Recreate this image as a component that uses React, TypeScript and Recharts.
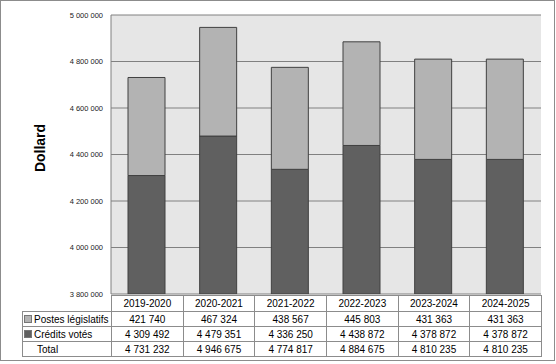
import { BarChart, Bar, XAxis, YAxis, CartesianGrid } from 'recharts';

const years = ['2019-2020', '2020-2021', '2021-2022', '2022-2023', '2023-2024', '2024-2025'];
const postesLegislatifs = [421740, 467324, 438567, 445803, 431363, 431363];
const creditsVotes = [4309492, 4479351, 4336250, 4438872, 4378872, 4378872];
const totals = [4731232, 4946675, 4774817, 4884675, 4810235, 4810235];
const yTicks = [3800000, 4000000, 4200000, 4400000, 4600000, 4800000, 5000000];

const data = years.map((y, i) => ({
    name: y,
    postes: postesLegislatifs[i],
    credits: creditsVotes[i],
}));

const fmt = (v: number) => String(v).replace(/\B(?=(\d{3})+(?!\d))/g, ' ');

const font = 'Arial, "Liberation Sans", sans-serif';
const border = '1px solid #8c8c8c';

const cell: React.CSSProperties = {
    border: border,
    padding: 0,
    textAlign: 'center',
    whiteSpace: 'nowrap',
};

function Swatch({ color }: { color: string }) {
    return (
        <span style={{
            display: 'inline-block', width: 6, height: 6, background: color,
            border: '1px solid #777', marginRight: 2, marginLeft: 1, verticalAlign: 0,
        }} />
    );
}

export default function App() {
    const rows = [
        { label: 'Postes législatifs', swatch: '#b3b3b3', values: postesLegislatifs },
        { label: 'Crédits votés', swatch: '#606060', values: creditsVotes },
        { label: 'Total', swatch: null, values: totals },
    ];
    return (
        <div style={{ position: 'absolute', left: 0, top: 0, width: 556, height: 364, background: '#fff', fontFamily: font }}>
            <div style={{ position: 'absolute', left: 0, top: 0, width: 553, height: 359, border: '1px solid #8c8c8c' }} />
            <BarChart
                width={556}
                height={364}
                data={data}
                barSize={37}
                margin={{ top: 15, right: 15, left: 11, bottom: 70 }}
            >
                <CartesianGrid vertical={false} stroke="#808080" fill="#e6e6e6" strokeDasharray="" />
                <XAxis dataKey="name" hide />
                <YAxis
                    width={100}
                    domain={[3800000, 5000000]}
                    ticks={yTicks}
                    allowDataOverflow
                    tickFormatter={fmt}
                    tickLine={false}
                    tickSize={0}
                    tickMargin={8}
                    axisLine={{ stroke: '#808080' }}
                    tick={{ fontSize: 7.5, fill: '#222', fontFamily: font }}
                />
                <Bar dataKey="credits" stackId="a" fill="#606060" stroke="#404040" strokeWidth={1} isAnimationActive={false} />
                <Bar dataKey="postes" stackId="a" fill="#b3b3b3" stroke="#404040" strokeWidth={1} isAnimationActive={false} />
            </BarChart>
            <div style={{
                position: 'absolute', left: 40, top: 148, transform: 'translate(-50%, -50%) rotate(-90deg)',
                fontSize: 14, fontWeight: 'bold', color: '#000',
            }}>Dollard</div>
            <table style={{
                position: 'absolute', left: 22, top: 295, borderCollapse: 'collapse', tableLayout: 'fixed',
                width: 519, fontSize: 10, color: '#000', fontFamily: font,
            }}>
                <colgroup>
                    <col style={{ width: 89 }} />
                    {years.map((y) => <col key={y} style={{ width: 71.67 }} />)}
                </colgroup>
                <tbody>
                    <tr style={{ height: 16 }}>
                        <td style={{ ...cell, borderTop: 'none', borderLeft: 'none' }} />
                        {years.map((y) => <td key={y} style={cell}>{y}</td>)}
                    </tr>
                    {rows.map((r) => (
                        <tr key={r.label} style={{ height: 15 }}>
                            <td style={{ ...cell, textAlign: 'left', paddingLeft: r.swatch ? 0 : 14 }}>
                                {r.swatch && <Swatch color={r.swatch} />}{r.label}
                            </td>
                            {r.values.map((v, i) => <td key={i} style={cell}>{fmt(v)}</td>)}
                        </tr>
                    ))}
                </tbody>
            </table>
        </div>
    );
}
